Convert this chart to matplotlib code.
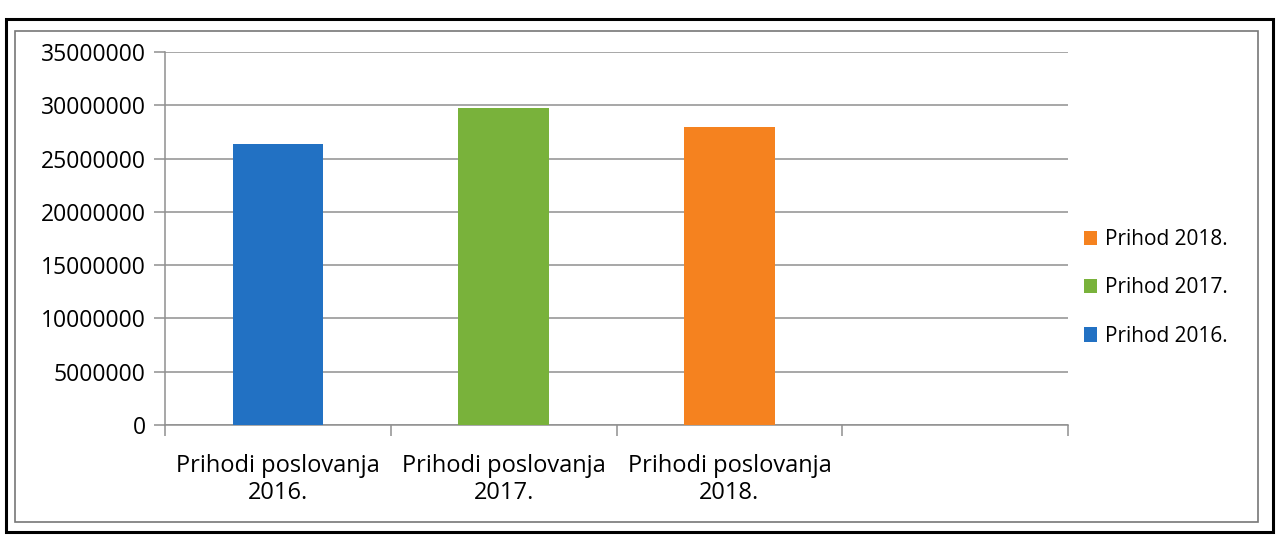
import matplotlib
matplotlib.use("Agg")
import matplotlib.pyplot as plt
from matplotlib.patches import Rectangle
from matplotlib.ticker import FixedLocator, NullFormatter

categories = ["Prihodi poslovanja\n2016.", "Prihodi poslovanja\n2017.", "Prihodi poslovanja\n2018.", ""]
series = ["Prihod 2016.", "Prihod 2017.", "Prihod 2018."]
values = [26400000, 29700000, 28000000]
colors = ["#2271c3", "#79b23b", "#f5821f"]
yticks = [0, 5000000, 10000000, 15000000, 20000000, 25000000, 30000000, 35000000]

plt.rcParams['font.family'] = ['Open Sans', 'DejaVu Sans']

W, H = 1276, 535
fig = plt.figure(figsize=(W / 100, H / 100), dpi=100)
ax = fig.add_axes([165 / W, 1 - 425 / H, (1068 - 165) / W, (425 - 52) / H])

grid_c = "#8f8f8f"
handles = []
for i, (name, v, c) in enumerate(zip(series, values, colors)):
    b = ax.bar(i, v, width=0.40, color=c, label=name, zorder=3)
    handles.append(b)

ax.set_xlim(-0.5, len(categories) - 0.5)
ax.set_ylim(0, 35000000)
ax.set_yticks(yticks)
ax.set_yticklabels([str(t) for t in yticks])
ax.yaxis.grid(True, color=grid_c, lw=1.1, zorder=0)

ax.set_xticks(range(len(categories)))
ax.set_xticklabels(categories, linespacing=1.15)
ax.xaxis.set_minor_locator(FixedLocator([i - 0.5 for i in range(len(categories) + 1)]))
ax.xaxis.set_minor_formatter(NullFormatter())
ax.tick_params(axis='x', which='major', length=0, pad=21, labelsize=17)
ax.tick_params(axis='x', which='minor', length=8, width=1.1, color=grid_c, direction='out')
ax.tick_params(axis='y', length=8, width=1.1, color=grid_c, pad=6, labelsize=16.5)

for s in ["top", "right"]:
    ax.spines[s].set_visible(False)
for s in ["left", "bottom"]:
    ax.spines[s].set_color(grid_c)
    ax.spines[s].set_linewidth(1.1)

leg = fig.legend(handles[::-1], [h.get_label() for h in handles[::-1]],
                 loc="center left", bbox_to_anchor=(1074 / W, 1 - 288 / H),
                 frameon=False, fontsize=15, handlelength=0.6, handleheight=0.7,
                 handletextpad=0.4, labelspacing=1.3, borderpad=0)

# scanned frames
fig.add_artist(Rectangle((6 / W, 1 - 532 / H), (1273 - 6) / W, (532 - 19) / H,
                         transform=fig.transFigure, fill=False, ec="black", lw=2.2))
fig.add_artist(Rectangle((15 / W, 1 - 522 / H), (1258 - 15) / W, (522 - 31) / H,
                         transform=fig.transFigure, fill=False, ec="#777777", lw=1.2))

fig.savefig("out.png", dpi=100)
